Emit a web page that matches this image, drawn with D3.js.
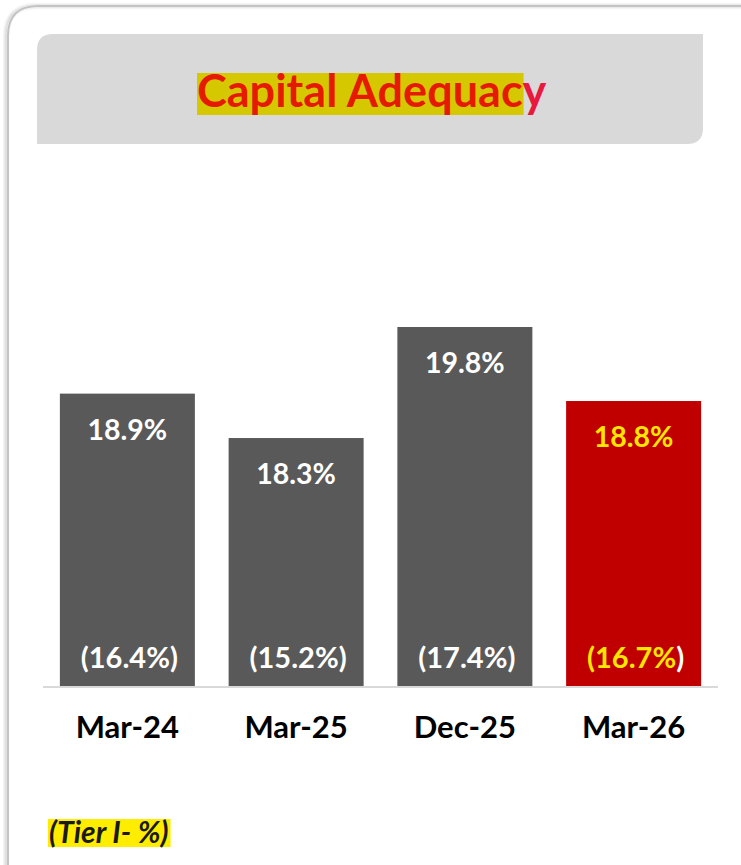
<!DOCTYPE html>
<html>
<head>
<meta charset="utf-8">
<script src="https://cdn.jsdelivr.net/npm/d3@7"></script>
<style>
  html, body { margin: 0; padding: 0; background: #fff; }
  svg { display: block; }
  text { font-family: Lato, "Open Sans", sans-serif; }
</style>
</head>
<body>
<svg id="chart" width="741" height="865"></svg>
<script>
const categories = ["Mar-24", "Mar-25", "Dec-25", "Mar-26"];
const carValues = [18.9, 18.3, 19.8, 18.8];
const tier1Values = [16.4, 15.2, 17.4, 16.7];
const carLabels = ["18.9%", "18.3%", "19.8%", "18.8%"];
const tier1Labels = ["(16.4%)", "(15.2%)", "(17.4%)", "(16.7%)"];
const title = "Capital Adequacy";
const footnote = "(Tier I- %)";

const svg = d3.select("#chart");

// card frame
const defs = svg.append("defs");
const f = defs.append("filter").attr("id", "sh").attr("x", "-10%").attr("y", "-10%").attr("width", "120%").attr("height", "120%");
f.append("feDropShadow").attr("dx", -2).attr("dy", 0).attr("stdDeviation", 1.5).attr("flood-color", "#000").attr("flood-opacity", 0.25);

svg.append("path")
  .attr("d", "M8,900 L8,36 Q8,6 38,6 L800,6")
  .attr("fill", "none")
  .attr("stroke", "#c4c4c4")
  .attr("stroke-width", 2)
  .attr("filter", "url(#sh)");

// title box (rounded top-left and bottom-right)
const bx0 = 37, by0 = 34, bx1 = 703, by1 = 144, r = 16;
svg.append("path")
  .attr("d", `M${bx0},${by0 + r} Q${bx0},${by0} ${bx0 + r},${by0} L${bx1},${by0} L${bx1},${by1 - r} Q${bx1},${by1} ${bx1 - r},${by1} L${bx0},${by1} Z`)
  .attr("fill", "#d9d9d9");

// title text with highlight
const tg = svg.append("g");
const hl = tg.append("rect").attr("fill", "#d6c800");
const tt = tg.append("text")
  .attr("x", 197).attr("y", 107)
  .attr("font-size", 45).attr("font-weight", 700);
tt.append("tspan").attr("fill", "#e51a00").text(title.slice(0, -1));
tt.append("tspan").attr("fill", "#e8193c").text(title.slice(-1));
const firstLen = tt.select("tspan").node().getComputedTextLength();
hl.attr("x", 197).attr("y", 73).attr("width", firstLen + 1).attr("height", 42);

// scales
const x = d3.scaleBand().domain(categories).range([43, 718]).paddingInner(0.2).paddingOuter(0.1);
const y = d3.scaleLinear().domain([14.95, 19.8]).range([686, 327]);

// bars
svg.selectAll(".bar").data(categories).enter().append("rect")
  .attr("x", d => x(d))
  .attr("y", (d, i) => y(carValues[i]))
  .attr("width", x.bandwidth())
  .attr("height", (d, i) => y.range()[0] - y(carValues[i]))
  .attr("fill", (d, i) => i === categories.length - 1 ? "#c00000" : "#595959");

// baseline
svg.append("line").attr("x1", 43).attr("x2", 718).attr("y1", 687).attr("y2", 687)
  .attr("stroke", "#d9d9d9").attr("stroke-width", 2);

// value labels
svg.selectAll(".vl").data(categories).enter().append("text")
  .attr("x", d => x(d) + x.bandwidth() / 2)
  .attr("y", (d, i) => y(carValues[i]) + 46)
  .attr("text-anchor", "middle")
  .attr("font-size", 28.5).attr("font-weight", 700)
  .attr("fill", (d, i) => i === categories.length - 1 ? "#ffe600" : "#ffffff")
  .text((d, i) => carLabels[i]);

// tier I labels
const tl = svg.selectAll(".tl").data(categories).enter().append("text")
  .attr("x", d => x(d) + x.bandwidth() / 2 + 2)
  .attr("y", 668)
  .attr("text-anchor", "middle")
  .attr("font-size", 29).attr("font-weight", 700);
tl.each(function (d, i) {
  const t = d3.select(this);
  const last = i === categories.length - 1;
  const s = tier1Labels[i];
  t.append("tspan").attr("fill", last ? "#ffe600" : "#ffffff").text(s.slice(0, -1));
  t.append("tspan").attr("fill", "#ffffff").text(s.slice(-1));
});

// category axis labels
svg.selectAll(".cl").data(categories).enter().append("text")
  .attr("x", d => x(d) + x.bandwidth() / 2)
  .attr("y", 738)
  .attr("text-anchor", "middle")
  .attr("font-size", 31).attr("font-weight", 700)
  .attr("fill", "#000")
  .text(d => d);

// footnote
const fg = svg.append("g");
const fr = fg.append("rect").attr("fill", "#ffed00");
const ft = fg.append("text").attr("x", 49).attr("y", 843)
  .attr("font-size", 30).attr("font-weight", 700).attr("font-style", "italic")
  .attr("fill", "#1a1a1a").text(footnote);
const fb = ft.node().getBBox();
fr.attr("x", 48).attr("y", 819).attr("width", fb.width + 3).attr("height", 28);
</script>
</body>
</html>
